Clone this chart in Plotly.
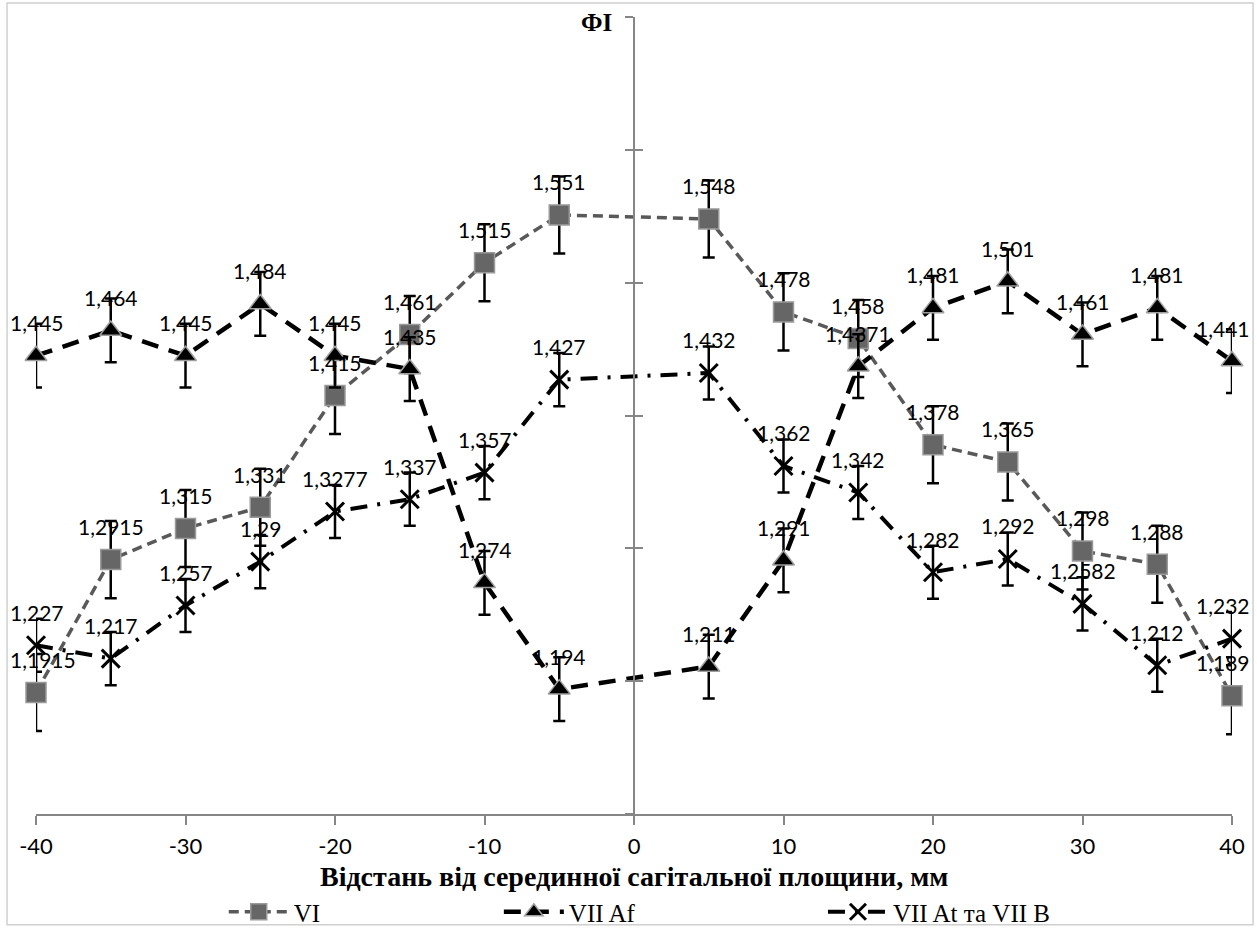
import plotly.graph_objects as go

# distance from the midsagittal plane, mm
x_mm = [-40, -35, -30, -25, -20, -15, -10, -5, 5, 10, 15, 20, 25, 30, 35, 40]

# series values (ФІ)
vi = [1.1915, 1.2915, 1.315, 1.331, 1.415, 1.461, 1.515, 1.551,
      1.548, 1.478, 1.458, 1.378, 1.365, 1.298, 1.288, 1.189]
vii_af = [1.445, 1.464, 1.445, 1.484, 1.445, 1.435, 1.274, 1.194,
          1.211, 1.291, 1.4371, 1.481, 1.501, 1.461, 1.481, 1.441]
vii_at = [1.227, 1.217, 1.257, 1.29, 1.3277, 1.337, 1.357, 1.427,
          1.432, 1.362, 1.342, 1.282, 1.292, 1.2582, 1.212, 1.232]

# error bar half-widths
err_vi = 0.029
err_af = 0.024
err_at = 0.02

series_names = ["VI", "VII Af", "VII At та VII B"]
x_ticks = [-40, -30, -20, -10, 0, 10, 20, 30, 40]
x_tick_text = ["-40", "-30", "-20", "-10", "0", "10", "20", "30", "40"]

x_title = "Відстань від серединної сагітальної площини, мм"
y_title = "ФІ"

LABEL_FONT = dict(family="Lato, Liberation Sans, sans-serif", size=21, color="black")
SERIF = "Liberation Serif, Times New Roman, serif"

fig = go.Figure()

styles = [
    dict(vals=vi, err=err_vi, name=series_names[0], legend="legend",
         line=dict(color="#595959", width=3.5, dash="10px,6px"),
         marker=dict(symbol="square", size=20, color="#666666",
                     line=dict(color="#9a9a9a", width=1.5))),
    dict(vals=vii_af, err=err_af, name=series_names[1], legend="legend2",
         line=dict(color="black", width=4.5, dash="17px,11px"),
         marker=dict(symbol="triangle-up", size=19, color="black",
                     line=dict(color="#a0a0a0", width=1.5))),
    dict(vals=vii_at, err=err_at, name=series_names[2], legend="legend3",
         line=dict(color="black", width=4, dash="17px,10px,3px,10px"),
         marker=dict(symbol="x-thin", size=18, color="black",
                     line=dict(color="black", width=3))),
]

for s in styles:
    fig.add_trace(go.Scatter(
        x=x_mm, y=s["vals"], name=s["name"], legend=s["legend"],
        mode="lines+markers", line=s["line"], marker=s["marker"],
        error_y=dict(type="constant", value=s["err"], color="black",
                     thickness=2.5, width=6),
        cliponaxis=False,
    ))

# invisible trace to realise the second (inside-tick) y axis
fig.add_trace(go.Scatter(x=[None], y=[None], yaxis="y2", showlegend=False,
                         hoverinfo="skip"))

x_min, x_max = min(x_mm), max(x_mm)
annotations = []
for s in styles:
    for xv, yv in zip(x_mm, s["vals"]):
        if xv == x_min:
            anchor, shift = "left", -28      # keep label inside the chart area
        elif xv == x_max:
            anchor, shift = "right", 20
        else:
            anchor, shift = "center", 0
        annotations.append(dict(
            x=xv, y=yv, xref="x", yref="y", text=str(yv).replace(".", ","),
            showarrow=False, yshift=33, xshift=shift,
            font=LABEL_FONT, xanchor=anchor, yanchor="middle"))

annotations.append(dict(
    x=0.5, y=-0.079, xref="paper", yref="paper", text="<b>" + x_title + "</b>",
    showarrow=False, font=dict(family=SERIF, size=28, color="black"),
    xanchor="center", yanchor="middle"))
annotations.append(dict(
    x=0.5, y=1, xref="paper", yref="paper", text="<b>" + y_title + "</b>",
    showarrow=False, xshift=-38, yshift=-5,
    font=dict(family=SERIF, size=25, color="black"),
    xanchor="center", yanchor="middle"))

axis_color = "#868686"
yaxis_common = dict(range=[1.1, 1.7], tick0=1.1, dtick=0.1, showgrid=False,
                    zeroline=False, showticklabels=False, anchor="free",
                    position=0.5, showline=True, linecolor=axis_color,
                    linewidth=1.5, tickcolor=axis_color, tickwidth=1.5, ticklen=8)

legend_common = dict(orientation="h", yanchor="middle", y=-0.123, xanchor="left",
                     font=dict(family=SERIF, size=25, color="black"),
                     itemwidth=60, bgcolor="rgba(0,0,0,0)")

fig.update_layout(
    width=1257, height=929,
    margin=dict(l=36, r=25, t=17, b=115, autoexpand=False),
    paper_bgcolor="white", plot_bgcolor="white",
    xaxis=dict(range=[-40, 40], tickvals=x_ticks, ticktext=x_tick_text,
               showgrid=False, zeroline=False,
               showline=True, linecolor=axis_color, linewidth=1.5,
               ticks="outside", ticklen=9, tickwidth=1.5, tickcolor=axis_color,
               ticklabelstandoff=3,
               tickfont=dict(family="Lato, Liberation Sans, sans-serif", size=22,
                             color="black")),
    yaxis=dict(ticks="outside", **yaxis_common),
    yaxis2=dict(ticks="inside", overlaying="y", **yaxis_common),
    legend=dict(x=0.157, **legend_common),
    legend2=dict(x=0.387, **legend_common),
    legend3=dict(x=0.658, **legend_common),
    annotations=annotations,
    shapes=[dict(type="rect", xref="paper", yref="paper",
                 x0=-0.0242, x1=1.0176, y0=-0.139, y1=1.0176,
                 line=dict(color="#d0d0d0", width=1.5), layer="below")],
)

fig.write_html("out.html", config={"displayModeBar": False},
               post_script="document.body.style.margin='0';")
